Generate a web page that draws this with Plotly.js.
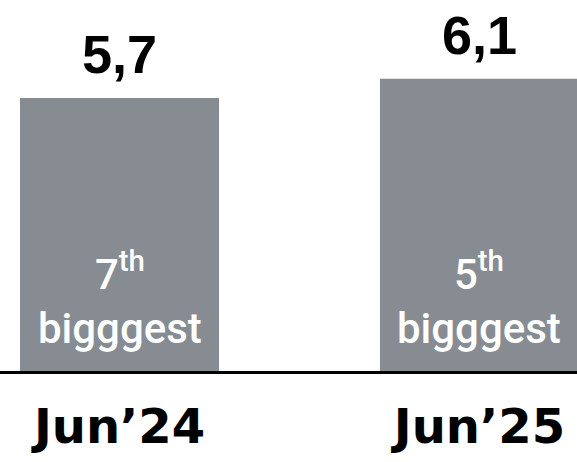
<!DOCTYPE html>
<html>
<head>
<meta charset="utf-8">
<script src="https://cdn.plot.ly/plotly-3.0.1.min.js"></script>
<style>html,body{margin:0;padding:0;background:#fff;}#chart{width:577px;height:462px;}</style>
</head>
<body>
<div id="chart"></div>
<script>
const categories = ['Jun\u201924', 'Jun\u201925'];
const values = [5.7, 6.1];
const valueLabels = ['5,7', '6,1'];
const ranks = ['7', '5'];
const rankSuffix = 'th';
const rankWord = 'bigggest';

const barColor = '#868c92';

const trace = {
  type: 'bar',
  x: categories,
  y: values,
  width: 0.553,
  marker: {color: barColor},
  hoverinfo: 'skip'
};

const annotations = [];
categories.forEach((c, i) => {
  annotations.push({
    x: c, y: values[i], xref: 'x', yref: 'y',
    text: valueLabels[i], showarrow: false,
    yanchor: 'bottom', yshift: 12,
    font: {family: 'Liberation Sans, Arial, sans-serif', size: 54, weight: 'bold', color: '#000'}
  });
  annotations.push({
    x: c, y: 0, xref: 'x', yref: 'y',
    text: ranks[i] + '<sup>' + rankSuffix + '</sup><br>' + rankWord,
    showarrow: false, align: 'center',
    yanchor: 'bottom', yshift: 16,
    font: {family: 'Roboto, sans-serif', size: 42, weight: 500, color: '#fff'}
  });
});

const layout = {
  width: 577, height: 462,
  margin: {l: 0, r: 0, t: 0, b: 91},
  paper_bgcolor: '#fff', plot_bgcolor: '#fff',
  showlegend: false,
  xaxis: {
    type: 'category',
    range: [-0.332, 1.271],
    showgrid: false, zeroline: false,
    showline: true, linecolor: '#000', linewidth: 2.5,
    ticks: '',
    tickfont: {family: 'DejaVu Sans, sans-serif', size: 48, weight: 'bold', color: '#000'},
    ticklabelstandoff: 12
  },
  yaxis: {
    range: [0, 7.745],
    visible: false, showgrid: false, zeroline: false
  },
  annotations: annotations
};

Plotly.newPlot('chart', [trace], layout, {displayModeBar: false, staticPlot: true});
</script>
</body>
</html>
